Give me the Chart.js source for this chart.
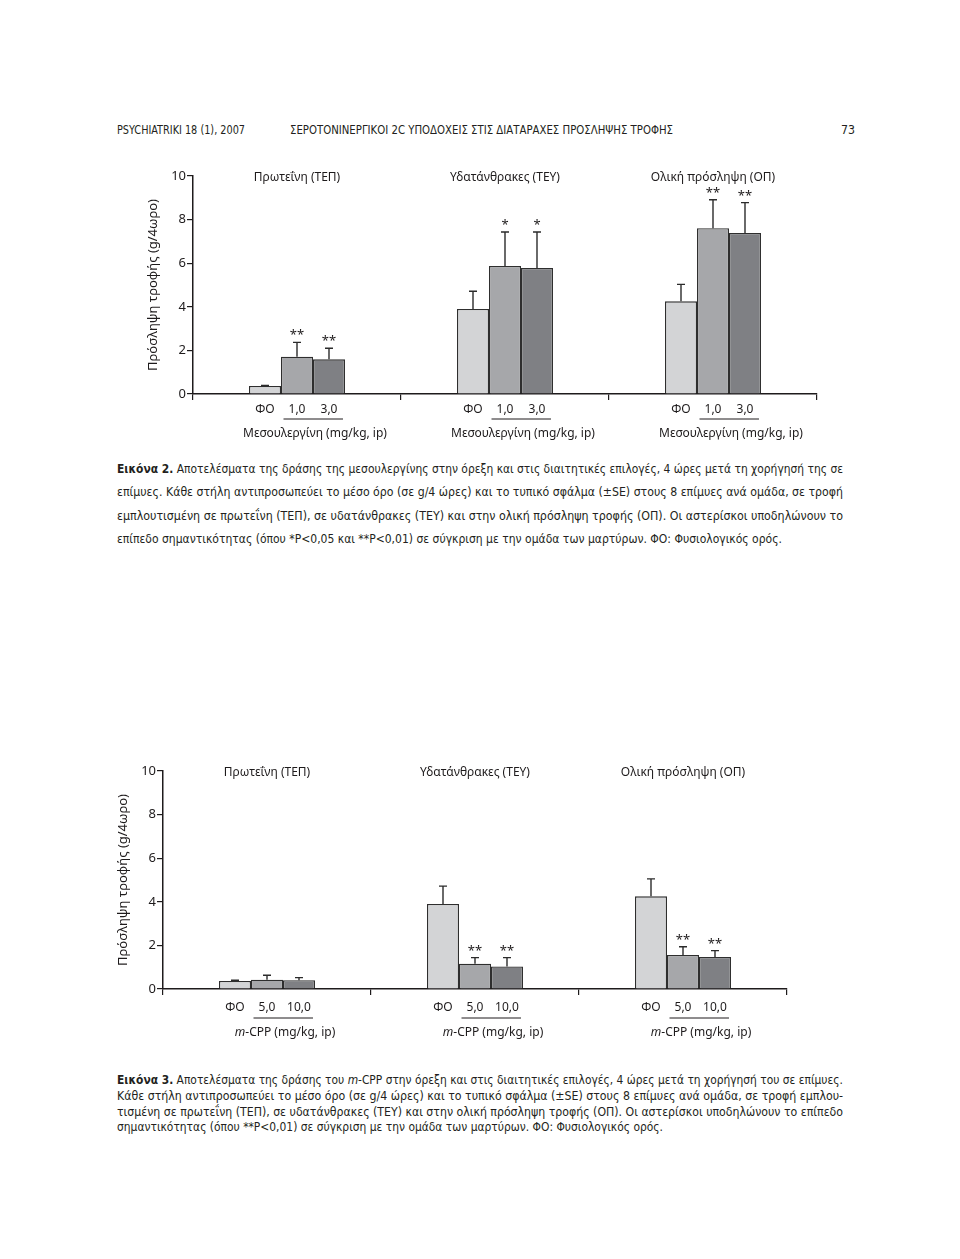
<!DOCTYPE html>
<html>
<head>
<meta charset="utf-8">
<script src="https://cdn.jsdelivr.net/npm/chart.js@4.4.0/dist/chart.umd.min.js"></script>
<style>
    body { margin: 0; background: #fff; }
    #page { position: relative; width: 960px; height: 1259px; overflow: hidden; background: #fff; color: #231f20; }
    .ln { position: absolute; white-space: nowrap; transform-origin: 0 50%; height: 16px; line-height: 16px;
          font-family: 'Liberation Sans Narrow', 'DejaVu Sans Condensed', 'Noto Sans', sans-serif; }
    .box { position: absolute; width: 760px; height: 310px; }
</style>
</head>
<body>
<div id="page">
    <div class="box" style="left:100px;top:150px"><canvas id="fig2" width="760" height="310"></canvas></div>
    <div class="box" style="left:70px;top:745px"><canvas id="fig3" width="760" height="310"></canvas></div>
</div>
<script>
// common
const groupTitles = ['Πρωτεΐνη (ΤΕΠ)', 'Υδατάνθρακες (ΤΕΥ)', 'Ολική πρόσληψη (ΟΠ)'];
const yTicks = [0, 2, 4, 6, 8, 10];
const yTitle = 'Πρόσληψη τροφής (g/4ωρο)';

// Εικόνα 2 - μεσουλεργίνη
const mesDoses = ['ΦΟ', '1,0', '3,0'];
const mesFO = [0.37, 3.90, 4.25];
const mesFOse = [0.02, 0.81, 0.78];
const mes10 = [1.71, 5.87, 7.60];
const mes10se = [0.66, 1.56, 1.31];
const mes30 = [1.59, 5.78, 7.39];
const mes30se = [0.51, 1.65, 1.39];
const mes10stars = ['**', '*', '**'];
const mes30stars = ['**', '*', '**'];

// Εικόνα 3 - m-CPP
const cppDoses = ['ΦΟ', '5,0', '10,0'];
const cppFO = [0.37, 3.90, 4.25];
const cppFOse = [0.03, 0.82, 0.80];
const cpp5 = [0.43, 1.16, 1.56];
const cpp5se = [0.20, 0.28, 0.38];
const cpp10 = [0.40, 1.03, 1.47];
const cpp10se = [0.12, 0.41, 0.29];
const cpp5stars = ['', '**', '**'];
const cpp10stars = ['', '**', '**'];

const barColors = ['#d3d4d6', '#a6a7aa', '#7f8084'];
const ink = '#1e1b1c';
const chartFont = "'Noto Sans', 'DejaVu Sans', sans-serif";

Chart.defaults.font.family = chartFont;
Chart.defaults.font.size = 12;
Chart.defaults.color = ink;

const annot = {
    id: 'annot',
    afterDatasetsDraw(chart) {
        const ctx = chart.ctx;
        const y = chart.scales.y;
        ctx.save();
        ctx.strokeStyle = '#2b2b2b';
        ctx.fillStyle = ink;
        ctx.lineWidth = 1.4;
        ctx.font = '13px ' + chartFont;
        ctx.textAlign = 'center';
        ctx.textBaseline = 'alphabetic';
        chart.data.datasets.forEach((ds, di) => {
            chart.getDatasetMeta(di).data.forEach((bar, i) => {
                const top = y.getPixelForValue(ds.data[i] + ds.se[i]);
                ctx.beginPath();
                ctx.moveTo(bar.x, bar.y);
                ctx.lineTo(bar.x, top);
                ctx.moveTo(bar.x - 4, top);
                ctx.lineTo(bar.x + 4, top);
                ctx.stroke();
                if (ds.stars[i]) ctx.fillText(ds.stars[i], bar.x, top - 3);
            });
        });
        ctx.restore();
    },
    afterDraw(chart, args, opts) {
        const ctx = chart.ctx;
        const x = chart.scales.x, y = chart.scales.y;
        const bottom = chart.chartArea.bottom;
        ctx.save();
        ctx.fillStyle = ink;
        ctx.strokeStyle = ink;
        ctx.font = '12px ' + chartFont;
        ctx.textAlign = 'center';
        ctx.textBaseline = 'middle';
        chart.data.labels.forEach((t, i) => {
            ctx.fillText(t, x.getPixelForValue(i), y.getPixelForValue(10) + 2);
        });
        const metas = chart.data.datasets.map((d, di) => chart.getDatasetMeta(di).data);
        chart.data.labels.forEach((t, i) => {
            metas.forEach((m, k) => {
                ctx.fillText(chart.data.datasets[k].label, m[i].x, bottom + opts.dose);
            });
            const b2 = metas[1][i], b3 = metas[2][i];
            ctx.lineWidth = 1;
            ctx.beginPath();
            ctx.moveTo(b2.x - 13.5, bottom + opts.line);
            ctx.lineTo(b3.x + 14, bottom + opts.line);
            ctx.stroke();
            // drug label, centred under the two dose bars
            const parts = opts.drug;
            let w = 0;
            parts.forEach(p => {
                ctx.font = (p.it ? 'italic ' : '') + '12px ' + chartFont;
                w += ctx.measureText(p.t).width;
            });
            let px = (b2.x + b3.x) / 2 + 2 - w / 2;
            ctx.textAlign = 'left';
            parts.forEach(p => {
                ctx.font = (p.it ? 'italic ' : '') + '12px ' + chartFont;
                ctx.fillText(p.t, px, bottom + opts.drugY);
                px += ctx.measureText(p.t).width;
            });
            ctx.textAlign = 'center';
            ctx.font = '12px ' + chartFont;
        });
        ctx.restore();
    }
};

function makeChart(id, doses, series, ses, stars, labelOpts) {
    return new Chart(document.getElementById(id), {
        type: 'bar',
        data: {
            labels: groupTitles,
            datasets: series.map((d, k) => ({
                label: doses[k],
                data: d,
                se: ses[k],
                stars: stars[k],
                backgroundColor: barColors[k],
                borderColor: '#2e2e2e',
                borderWidth: 1.3,
                categoryPercentage: 0.4615,
                barPercentage: 1
            }))
        },
        options: {
            responsive: false,
            animation: false,
            events: [],
            layout: { padding: { left: 42, top: 26, right: 43, bottom: 0 } },
            plugins: {
                legend: { display: false },
                tooltip: { enabled: false },
                annot: labelOpts
            },
            scales: {
                x: {
                    grid: { offset: true, drawOnChartArea: false, tickLength: 6, color: ink, lineWidth: 1.2 },
                    border: { color: ink, width: 1.5 },
                    ticks: { display: false },
                    afterFit: s => { s.height = 66; }
                },
                y: {
                    min: 0,
                    max: 10,
                    afterBuildTicks: s => { s.ticks = yTicks.map(v => ({ value: v })); },
                    ticks: { padding: 1, font: { size: 13 } },
                    grid: { drawOnChartArea: false, tickLength: 6, color: ink, lineWidth: 1.2 },
                    border: { color: ink, width: 1.5 },
                    title: { display: true, text: yTitle, font: { size: 13 }, padding: { top: 3, bottom: 0 } },
                    afterFit: s => { s.width = 51; }
                }
            }
        },
        plugins: [annot]
    });
}

makeChart('fig2', mesDoses, [mesFO, mes10, mes30], [mesFOse, mes10se, mes30se],
    [['', '', ''], mes10stars, mes30stars],
    { dose: 16, line: 25, drugY: 40, drug: [{ t: 'Μεσουλεργίνη (mg/kg, ip)' }] });

makeChart('fig3', cppDoses, [cppFO, cpp5, cpp10], [cppFOse, cpp5se, cpp10se],
    [['', '', ''], cpp5stars, cpp10stars],
    { dose: 19, line: 29, drugY: 44, drug: [{ t: 'm', it: true }, { t: '-CPP (mg/kg, ip)' }] });

// page text: [html, left, centre y, target width, font size]
const textLines = [
    ['PSYCHIATRIKI 18 (1), 2007', 117, 130, 128, 12],
    ['ΣΕΡΟΤΟΝΙΝΕΡΓΙΚΟΙ 2C ΥΠΟΔΟΧΕΙΣ ΣΤΙΣ ΔΙΑΤΑΡΑΧΕΣ ΠΡΟΣΛΗΨΗΣ ΤΡΟΦΗΣ', 290, 130, 383, 12],
    ['73', 841, 130, 14, 12],
    ['<b>Εικόνα 2.</b> Αποτελέσματα της δράσης της μεσουλεργίνης στην όρεξη και στις διαιτητικές επιλογές, 4 ώρες μετά τη χορήγησή της σε', 117, 469, 726, 13],
    ['επίμυες. Κάθε στήλη αντιπροσωπεύει το μέσο όρο (σε g/4 ώρες) και το τυπικό σφάλμα (±SE) στους 8 επίμυες ανά ομάδα, σε τροφή', 117, 492, 726, 13],
    ['εμπλουτισμένη σε πρωτεΐνη (ΤΕΠ), σε υδατάνθρακες (ΤΕΥ) και στην ολική πρόσληψη τροφής (ΟΠ). Οι αστερίσκοι υποδηλώνουν το', 117, 516, 726, 13],
    ['επίπεδο σημαντικότητας (όπου *P&lt;0,05 και **P&lt;0,01) σε σύγκριση με την ομάδα των μαρτύρων. ΦΟ: Φυσιολογικός ορός.', 117, 539, 665, 13],
    ['<b>Εικόνα 3.</b> Αποτελέσματα της δράσης του <i>m</i>-CPP στην όρεξη και στις διαιτητικές επιλογές, 4 ώρες μετά τη χορήγησή του σε επίμυες.', 117, 1080, 726, 13],
    ['Κάθε στήλη αντιπροσωπεύει το μέσο όρο (σε g/4 ώρες) και το τυπικό σφάλμα (±SE) στους 8 επίμυες ανά ομάδα, σε τροφή εμπλου-', 117, 1096, 726, 13],
    ['τισμένη σε πρωτεΐνη (ΤΕΠ), σε υδατάνθρακες (ΤΕΥ) και στην ολική πρόσληψη τροφής (ΟΠ). Οι αστερίσκοι υποδηλώνουν το επίπεδο', 117, 1112, 726, 13],
    ['σημαντικότητας (όπου **P&lt;0,01) σε σύγκριση με την ομάδα των μαρτύρων. ΦΟ: Φυσιολογικός ορός.', 117, 1127, 546, 13]
];

const page = document.getElementById('page');
for (const [html, left, yc, width, size] of textLines) {
    const el = document.createElement('div');
    el.className = 'ln';
    el.innerHTML = html;
    el.style.left = left + 'px';
    el.style.top = (yc - 8) + 'px';
    el.style.fontSize = size + 'px';
    page.appendChild(el);
    const natural = el.getBoundingClientRect().width;
    el.style.transform = `scaleX(${width / natural})`;
}
</script>
</body>
</html>
